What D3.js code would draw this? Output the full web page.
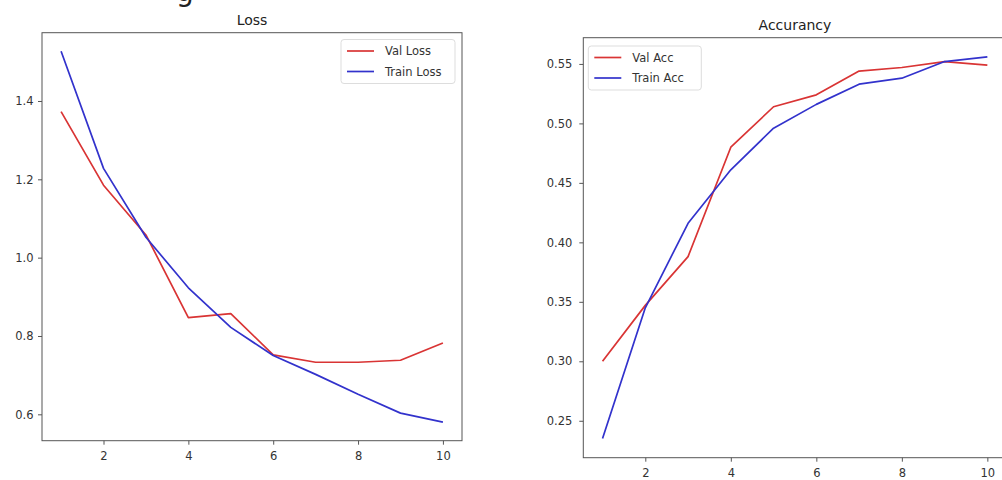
<!DOCTYPE html>
<html>
<head>
<meta charset="utf-8">
<script src="https://cdn.jsdelivr.net/npm/d3@7"></script>
<style>
  html, body { margin: 0; padding: 0; background: #fff; }
  svg { display: block; font-family: "DejaVu Sans", sans-serif; }
</style>
</head>
<body>
<svg id="chart" width="1002" height="480"></svg>
<script>
// Training history, one value per epoch
const epochs = [1, 2, 3, 4, 5, 6, 7, 8, 9, 10];
const valLoss   = [1.373, 1.185, 1.058, 0.847, 0.857, 0.752, 0.733, 0.733, 0.738, 0.782];
const trainLoss = [1.527, 1.228, 1.052, 0.923, 0.822, 0.750, 0.702, 0.651, 0.603, 0.580];
const valAcc    = [0.300, 0.347, 0.388, 0.480, 0.514, 0.524, 0.544, 0.547, 0.552, 0.549];
const trainAcc  = [0.235, 0.345, 0.416, 0.461, 0.496, 0.516, 0.533, 0.538, 0.552, 0.556];

const xTicks = [2, 4, 6, 8, 10];
const lossTicks = [0.6, 0.8, 1.0, 1.2, 1.4];
const accTicks = [0.25, 0.30, 0.35, 0.40, 0.45, 0.50, 0.55];

const RED = "#d93434";
const BLUE = "#3232cc";

const svg = d3.select("#chart");

// Clipped heading fragment at the very top of the figure
svg.append("text")
  .attr("x", 176).attr("y", 1)
  .attr("font-size", 28)
  .attr("fill", "#222")
  .text("g");

// Extent padded by 5% on each side
function padded(values) {
  const [lo, hi] = d3.extent(values);
  const m = (hi - lo) * 0.05;
  return [lo - m, hi + m];
}

function panel(cfg) {
  const x = d3.scaleLinear().domain(padded(epochs)).range([cfg.left, cfg.right]);
  const y = d3.scaleLinear().domain(padded(cfg.series.flatMap(s => s.values))).range([cfg.bottom, cfg.top]);

  const g = svg.append("g");

  // Axes
  const xAxis = d3.axisBottom(x).tickValues(xTicks).tickFormat(d3.format("d"))
    .tickSize(4).tickPadding(7.5).tickSizeOuter(0);
  const yAxis = d3.axisLeft(y).tickValues(cfg.yTicks).tickFormat(d3.format(cfg.fmt))
    .tickSize(4).tickPadding(cfg.yPad).tickSizeOuter(0);

  const gx = g.append("g").attr("transform", `translate(0,${cfg.bottom})`).call(xAxis);
  const gy = g.append("g").attr("transform", `translate(${cfg.left},0)`).call(yAxis);
  [gx, gy].forEach(a => {
    a.select(".domain").remove();
    a.selectAll(".tick line").attr("stroke", "#555").attr("stroke-width", 1);
    a.selectAll(".tick text").attr("fill", "#333").attr("font-size", 11.5)
      .attr("font-family", "DejaVu Sans, sans-serif");
  });

  // Lines
  const line = d3.line().x((d, i) => x(epochs[i])).y(d => y(d));
  cfg.series.forEach(s => {
    g.append("path")
      .datum(s.values)
      .attr("d", line)
      .attr("fill", "none")
      .attr("stroke", s.color)
      .attr("stroke-width", 1.7)
      .attr("stroke-linejoin", "round");
  });

  // Frame
  g.append("rect")
    .attr("x", cfg.left).attr("y", cfg.top)
    .attr("width", cfg.right - cfg.left).attr("height", cfg.bottom - cfg.top)
    .attr("fill", "none").attr("stroke", "#555").attr("stroke-width", 1);

  // Title
  g.append("text")
    .attr("x", (cfg.left + cfg.right) / 2).attr("y", cfg.top - 7.5)
    .attr("text-anchor", "middle").attr("font-size", 14).attr("fill", "#222")
    .text(cfg.title);

  // Legend
  const L = cfg.legend;
  const lg = g.append("g").attr("transform", `translate(${L.x},${L.y})`);
  lg.append("rect")
    .attr("width", L.w).attr("height", 44).attr("rx", 3)
    .attr("fill", "rgba(255,255,255,0.8)").attr("stroke", "#ddd").attr("stroke-width", 1);
  cfg.series.forEach((s, i) => {
    const yy = 11.5 + i * 20.5;
    lg.append("line").attr("x1", 6).attr("x2", 33).attr("y1", yy).attr("y2", yy)
      .attr("stroke", s.color).attr("stroke-width", 1.7);
    lg.append("text").attr("x", 44).attr("y", yy + 4).attr("font-size", 11.5)
      .attr("fill", "#333").text(s.name);
  });
}

panel({
  title: "Loss",
  left: 42, right: 462, top: 32.7, bottom: 440.7,
  yTicks: lossTicks, fmt: ".1f", yPad: 4.5,
  series: [
    { name: "Val Loss", values: valLoss, color: RED },
    { name: "Train Loss", values: trainLoss, color: BLUE }
  ],
  legend: { x: 341, y: 39.5, w: 114 }
});

panel({
  title: "Accurancy",
  left: 583.3, right: 1006.6, top: 37.7, bottom: 457.7,
  yTicks: accTicks, fmt: ".2f", yPad: 7,
  series: [
    { name: "Val Acc", values: valAcc, color: RED },
    { name: "Train Acc", values: trainAcc, color: BLUE }
  ],
  legend: { x: 588.3, y: 46, w: 113 }
});
</script>
</body>
</html>
